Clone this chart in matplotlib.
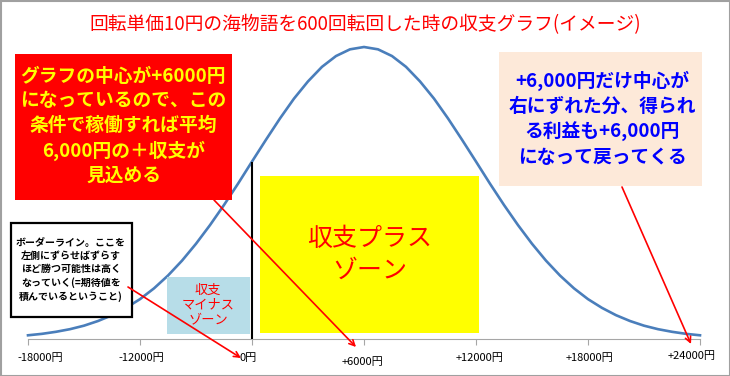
#!/usr/bin/env python3

import matplotlib
matplotlib.use('Agg')
import matplotlib.pyplot as plt
from matplotlib.patches import Rectangle

plt.rcParams['font.family'] = ['Noto Sans CJK JP', 'DejaVu Sans']

# x in tick steps (one step = one labelled tick), heights (peak = 100)
curve_x = [i / 8 for i in range(49)]
curve_height = [1.1, 1.6, 2.3, 3.2, 4.4, 6.0, 8.0, 10.5, 13.5, 17.2, 21.6, 26.7,
                32.5, 38.9, 45.8, 53.1, 60.7, 68.2, 75.5, 82.3, 88.2, 93.2, 96.9, 99.2,
                100,
                99.2, 96.9, 93.2, 88.2, 82.3, 75.5, 68.2, 60.7, 53.1, 45.8, 38.9, 32.5,
                26.7, 21.6, 17.2, 13.5, 10.5, 8.0, 6.0, 4.4, 3.2, 2.3, 1.6, 1.1]
tick_labels = ['-18000円', '-12000円', '0円', '+6000円', '+12000円', '+18000円', '+24000円']
border_x = 2  # "0円" borderline

title = '回転単価10円の海物語を600回転回した時の収支グラフ(イメージ)'
red_note = 'グラフの中心が+6000円\nになっているので、この\n条件で稼働すれば平均\n6,000円の＋収支が\n見込める'
pink_note = '+6,000円だけ中心が\n右にずれた分、得られ\nる利益も+6,000円\nになって戻ってくる'
border_note = 'ボーダーライン。ここを\n左側にずらせばずらす\nほど勝つ可能性は高く\nなっていく(=期待値を\n積んでいるということ)'
plus_zone = '収支プラス\nゾーン'
minus_zone = '収支\nマイナス\nゾーン'

W, H = 730, 376
fig = plt.figure(figsize=(W / 100, H / 100), dpi=100)

# main chart axes
ax = fig.add_axes([28 / W, (H - 338.5) / H, 672 / W, 291.5 / H])
ax.plot(curve_x, curve_height, color='#4a7ebb', lw=1.9, clip_on=False, zorder=2)
ax.set_xlim(0, 6)
ax.set_ylim(0, 100)
ax.vlines(border_x, 0, curve_height[curve_x.index(border_x)], color='black', lw=1.5, zorder=3)
for s in ['top', 'left', 'right']:
    ax.spines[s].set_visible(False)
ax.spines['bottom'].set_color('#a6a6a6')
ax.set_yticks([])
ax.set_xticks(range(len(tick_labels)))
ax.set_xticklabels([])
ax.tick_params(axis='x', direction='out', length=4, color='#a6a6a6')
lab_dx = [12, 1, -4, -1, 4, 1, -8]
lab_dy = [-20, -20, -20, -24, -20, -20, -17]
for i, lab in enumerate(tick_labels):
    ax.annotate(lab, xy=(i, 0), xycoords=('data', 'axes fraction'),
                xytext=(lab_dx[i], lab_dy[i]), textcoords='offset pixels',
                ha='center', va='center', fontsize=8, color='black')

# overlay in pixel coordinates for the callouts
lay = fig.add_axes([0, 0, 1, 1], zorder=5)
lay.set_xlim(0, W)
lay.set_ylim(H, 0)
lay.axis('off')
lay.patch.set_alpha(0)

lay.add_patch(Rectangle((0.5, 0.5), W - 1, H - 1, fill=False, edgecolor='#a0a0a0', lw=1.5))
lay.text(365, 25, title, color='#ff0000', fontsize=13.5, ha='center', va='center')

lay.add_patch(Rectangle((15, 54), 217, 146, facecolor='#ff0000', edgecolor='none'))
lay.text(123.5, 126, red_note, color='#ffff00', fontsize=13.5, fontweight='bold',
         ha='center', va='center', linespacing=1.35)

lay.add_patch(Rectangle((499, 52), 203, 134, facecolor='#fde9d9', edgecolor='none'))
lay.text(602, 119, pink_note, color='#0000ff', fontsize=13.5, fontweight='bold',
         ha='center', va='center', linespacing=1.38)

lay.add_patch(Rectangle((260, 176), 219, 157, facecolor='#ffff00', edgecolor='none'))
lay.text(370, 255, plus_zone, color='#ff0000', fontsize=18, ha='center', va='center',
         linespacing=1.3)

lay.add_patch(Rectangle((167, 277), 83, 57, facecolor='#b7dde8', edgecolor='none'))
lay.text(208, 305, minus_zone, color='#ff0000', fontsize=9.5, ha='center', va='center',
         linespacing=1.2)

lay.add_patch(Rectangle((11, 223), 121, 94, facecolor='white', edgecolor='black', lw=1.6))
lay.text(71, 270, border_note, color='black', fontsize=7.2, fontweight='bold',
         ha='center', va='center', linespacing=1.4)

arrow = dict(arrowstyle='->', color='#ff0000', lw=1.2, shrinkA=0, shrinkB=0, mutation_scale=10)
lay.annotate('', xy=(356, 347), xytext=(214, 200), arrowprops=arrow)
lay.annotate('', xy=(241, 358), xytext=(128, 287), arrowprops=arrow)
lay.annotate('', xy=(691, 344), xytext=(622, 187), arrowprops=arrow)

plt.savefig('out.png', dpi=100)
plt.close()
